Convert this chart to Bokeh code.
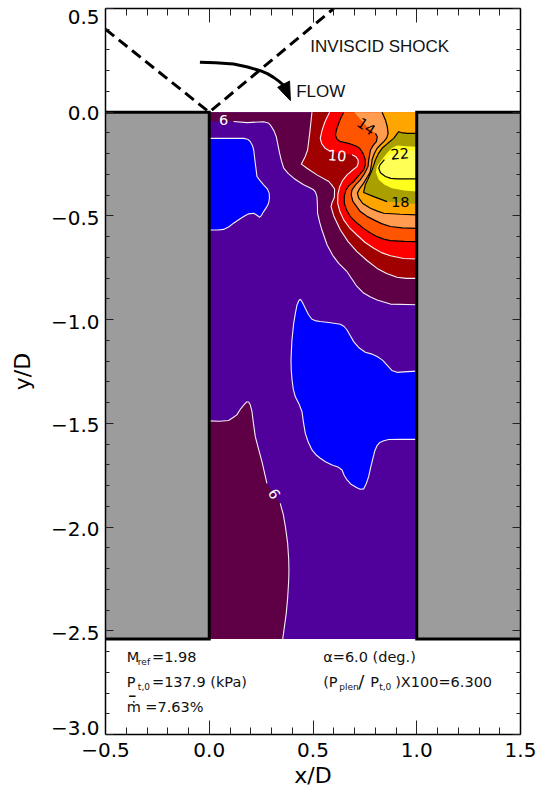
from bokeh.plotting import figure
from bokeh.models import LinearAxis, FixedTicker, Label, Range1d
from bokeh.core.properties import value
from bokeh.embed import file_html
from bokeh.resources import INLINE

x_major = [-0.5, 0.0, 0.5, 1.0, 1.5]
x_major_labels = ["\u22120.5", "0.0", "0.5", "1.0", "1.5"]
x_minor = [-0.4, -0.3, -0.2, -0.1, 0.1, 0.2, 0.3, 0.4, 0.6, 0.7, 0.8, 0.9, 1.1, 1.2, 1.3, 1.4]
y_major = [-3.0, -2.5, -2.0, -1.5, -1.0, -0.5, 0.0, 0.5]
y_minor = [-2.9, -2.8, -2.7, -2.6, -2.4, -2.3, -2.2, -2.1, -1.9, -1.8, -1.7, -1.6, -1.4, -1.3, -1.2, -1.1,
           -0.9, -0.8, -0.7, -0.6, -0.4, -0.3, -0.2, -0.1, 0.1, 0.2, 0.3, 0.4]
# where the reference prints its y labels: the two end labels are pulled inside the frame's span
y_label_at = [-2.97, -2.51, -2.01, -1.51, -1.01, -0.51, -0.005, 0.457]
y_major_labels = ["\u22123.0", "\u22122.5", "\u22122.0", "\u22121.5", "\u22121.0", "\u22120.5", "0.0", "0.5"]

cavity_bottom = -2.54

# contour lines
blue_up_x = [0, .166, .185, .198, .208, .214, .222, .230, .245, .262, .280, .289, .290, .286, .275, .262, .250, .243,
             .230, .214, .190, .166, .140, .117, .095, .069, .040, 0]
blue_up_y = [-.126, -.126, -.130, -.142, -.160, -.181, -.247, -.310, -.330, -.350, -.370, -.390, -.415, -.439, -.460,
             -.479, -.500, -.506, -.497, -.487, -.490, -.503, -.520, -.535, -.552, -.565, -.568, -.568]

blue_low_x = [.439, .448, .463, .478, .495, .515, .535, .585, .632, .650, .664, .680, .696, .720, .752, .780, .809,
              .835, .857, .880, .905, .935, 1.0, 1.0, .921, .865, .841, .822, .809, .798, .789, .778, .768, .757, .744,
              .728, .712, .685, .664, .650, .640, .620, .592, .560, .535, .513, .495, .477, .463, .454, .447, .432,
              .415, .405, .399, .395, .394, .398, .407, .415, .423, .432, .439]
blue_low_y = [-.901, -.915, -.945, -.975, -.998, -1.006, -1.009, -1.015, -1.022, -1.033, -1.050, -1.078, -1.106,
              -1.134, -1.157, -1.165, -1.178, -1.195, -1.219, -1.245, -1.254, -1.252, -1.248, -1.577, -1.577, -1.578,
              -1.584, -1.592, -1.607, -1.632, -1.668, -1.712, -1.757, -1.790, -1.816, -1.818, -1.810, -1.795, -1.773,
              -1.750, -1.725, -1.710, -1.701, -1.685, -1.668, -1.650, -1.628, -1.590, -1.548, -1.495, -1.444, -1.405,
              -1.372, -1.335, -1.291, -1.240, -1.194, -1.105, -1.017, -.970, -.929, -.908, -.901]

low6_x = [0, .05, .093, .115, .133, .150, .166, .180, .190, .198, .206, .213, .222, .238, .254, .278,
          .342, .357, .367, .378, .383, .384, .383, .378, .371, .354]
low6_y = [-1.488, -1.490, -1.486, -1.472, -1.459, -1.432, -1.412, -1.397, -1.397, -1.412, -1.444, -1.500, -1.564,
          -1.625, -1.685, -1.789, -1.886, -1.940, -1.998, -2.080, -2.159, -2.210, -2.255, -2.340, -2.416, -2.54]

up6_x = [0, .117, .182, .262, .285, .297, .312, .323, .339, .348, .359, .380, .407, .430, .455, .480, .503, .512, .519,
         .521, .522, .532, .543, .568, .595, .624, .664, .712, .744, .775, .809, .873, 1.0]
up6_y = [-.045, -.045, -.050, -.046, -.052, -.065, -.090, -.118, -.197, -.235, -.270, -.295, -.318, -.334, -.350, -.362,
         -.374, -.385, -.407, -.440, -.487, -.530, -.568, -.640, -.690, -.729, -.769, -.840, -.872, -.890, -.905, -.925, -.928]

c8_x = [.495, .484, .474, .462, .444, .471, .519, .576, .590, .604, .603, .592, .587, .600, .632, .670, .712, .760,
        .809, .855, .905, .95, 1.0]
c8_y = [0, -.102, -.182, -.215, -.250, -.270, -.302, -.334, -.350, -.370, -.410, -.435, -.455, -.500, -.568, -.625,
        -.672, -.715, -.753, -.778, -.796, -.801, -.801]

c10_x = [.580, .565, .555, .543, .535, .542, .559, .584, .688, .705, .717, .718, .712, .690, .664, .642, .629, .620,
         .619, .630, .648, .675, .712, .750, .793, .830, .873, .937, 1.0]
c10_y = [0, -.030, -.053, -.090, -.126, -.152, -.174, -.189, -.205, -.213, -.229, -.245, -.262, -.280, -.302, -.330,
         -.358, -.395, -.439, -.480, -.519, -.556, -.592, -.627, -.656, -.677, -.692, -.705, -.708]

c12_x = [.648, .634, .624, .613, .608, .616, .632, .655, .680, .705, .725, .742, .752, .752, .744, .720, .696, .672,
         .659, .651, .651, .662, .680, .710, .744, .775, .809, .840, .873, .94, 1.0]
c12_y = [0, -.028, -.053, -.085, -.110, -.130, -.142, -.147, -.153, -.162, -.174, -.200, -.229, -.255, -.278, -.306,
         -.334, -.355, -.374, -.405, -.439, -.472, -.503, -.533, -.560, -.581, -.600, -.612, -.619, -.623, -.624]

c14_x = [.699, .760, .801, .810, .806, .790, .777, .770, .765, .748, .728, .705, .688, .684, .692, .728, .760, .793,
         .830, .873, .93, 1.0]
c14_y = [0, -.07, -.102, -.118, -.140, -.160, -.182, -.220, -.262, -.296, -.326, -.350, -.374, -.398, -.430, -.479,
         -.502, -.519, -.537, -.551, -.558, -.560]

c16_x = [.833, .849, .858, .862, .855, .841, .825, .809, .795, .785, .781, .775, .760, .744, .725, .714, .720, .740,
         .777, .810, .841, .92, 1.0]
c16_y = [0, -.037, -.070, -.102, -.125, -.142, -.157, -.174, -.200, -.229, -.258, -.290, -.315, -.342, -.368, -.390,
         -.413, -.440, -.463, -.477, -.487, -.492, -.495]

c18_x = [1.0, .953, .925, .913, .902, .889, .860, .833, .815, .801, .785, .765, .752, .744, .793, .857, 1.0]
c18_y = [-.102, -.102, -.098, -.094, -.108, -.126, -.150, -.174, -.200, -.229, -.278, -.322, -.350, -.387, -.407, -.431, -.442]

c20_x = [1.0, .95, .905, .880, .857, .830, .808, .803, .817, .845, .881, .940, 1.0]
c20_y = [-.166, -.164, -.161, -.172, -.197, -.232, -.262, -.290, -.326, -.350, -.366, -.378, -.382]

c22_x = [1.0, .969, .873, .844, .822, .817, .825, .849, .875, .905, 1.0]
c22_y = [-.189, -.185, -.201, -.229, -.255, -.270, -.292, -.310, -.319, -.321, -.321]

shock_x = [-0.5, 0.0, 0.60]
shock_y = [0.40, 0.0, 0.50]

flow_x = [-.045, .03, .117, .185, .246, .280, .310, .335, .358]
flow_y = [.241, .238, .232, .218, .200, .186, .168, .150, .131]
flow_head_x = [.330, .387, .391]
flow_head_y = [.120, .150, .056]

label_text = ["6", "10", "14", "18", "22", "6"]
label_x = [.069, .616, .756, .921, .918, .313]
label_y = [-.037, -.210, -.069, -.431, -.201, -1.841]
label_angle = [0, -5, -35, 0, 5, -60]
label_color = ["white", "white", "black", "black", "black", "white"]

INDIGO, BLUE, PURPLE, DKRED, RED = "#50009B", "#0000FF", "#5F0046", "#A00000", "#FF0000"
ORED, LORANGE, ORANGE, OLIVE, YEL, PALE = "#FF5500", "#FF9C50", "#FFA500", "#A9A000", "#FFFF1E", "#FFFF55"
GRAY = "#9C9C9C"
FONT = "DejaVu Sans"

p = figure(frame_width=415, frame_height=726, x_range=Range1d(-0.5, 1.5), y_range=Range1d(-3.0, 0.5),
           output_backend="svg", toolbar_location=None, x_axis_location=None, y_axis_location=None,
           min_border_left=105, min_border_right=21, min_border_top=8, min_border_bottom=50,
           background_fill_color="white", border_fill_color="white", outline_line_color=None)
p.grid.visible = False


def tick_axis(ticks, minor, major_len, minor_len):
    a = LinearAxis(ticker=FixedTicker(ticks=ticks, minor_ticks=minor),
                   axis_line_color="black", axis_line_width=1.5,
                   major_tick_in=major_len, major_tick_out=0, minor_tick_in=minor_len, minor_tick_out=0,
                   major_tick_line_color="#222222", minor_tick_line_color="#222222",
                   major_tick_line_width=1, minor_tick_line_width=1,
                   major_label_text_color=None, major_label_text_font_size="1px", major_label_standoff=0)
    return a


def style_labels(a, ticks, labels, title):
    a.major_label_overrides = {float(t): s for t, s in zip(ticks, labels)}
    a.major_label_text_font = FONT
    a.major_label_text_font_size = "20px"
    a.major_label_text_color = "black"
    a.major_label_standoff = 8
    a.axis_label = title
    a.axis_label_text_font = FONT
    a.axis_label_text_font_size = "22px"
    a.axis_label_text_font_style = "normal"
    a.axis_label_text_color = "black"


ax_b = tick_axis(x_major, x_minor, 14, 7)
style_labels(ax_b, x_major, x_major_labels, "x/D")
ax_b.axis_label_standoff = 3
p.add_layout(ax_b, "below")

# left side: an inner axis with the frame line and ticks, an outer one with the printed labels
p.add_layout(tick_axis(y_major, y_minor, 8, 4), "left")
ax_l = LinearAxis(ticker=FixedTicker(ticks=y_label_at), axis_line_color=None, major_tick_line_color=None,
                  minor_tick_line_color=None, major_tick_in=0, major_tick_out=0, minor_tick_in=0, minor_tick_out=0)
style_labels(ax_l, y_label_at, y_major_labels, "y/D")
ax_l.major_label_standoff = 6
ax_l.axis_label_standoff = 13
p.add_layout(ax_l, "left")

p.add_layout(tick_axis(x_major, x_minor, 14, 7), "above")
p.add_layout(tick_axis(y_major, y_minor, 8, 4), "right")

# walls and cavity fill
p.quad(left=[-0.5, 1.0], right=[0.0, 1.5], top=[0, 0], bottom=[cavity_bottom] * 2, fill_color=GRAY, line_color=None)
p.quad(left=[0.0], right=[1.0], top=[0], bottom=[cavity_bottom], fill_color=INDIGO, line_color=None)

p.patch(low6_x + [0], low6_y + [cavity_bottom], fill_color=PURPLE, line_color=None)
p.patch(up6_x + [1, 0], up6_y + [0, 0], fill_color=PURPLE, line_color=None)
for cx, cy, col in [(c8_x, c8_y, DKRED), (c10_x, c10_y, RED), (c12_x, c12_y, ORED),
                    (c14_x, c14_y, LORANGE), (c16_x, c16_y, ORANGE)]:
    p.patch(cx + [1], cy + [0], fill_color=col, line_color=None)
for cx, cy, col in [(c18_x, c18_y, OLIVE), (c20_x, c20_y, YEL), (c22_x, c22_y, PALE)]:
    p.patch(cx, cy, fill_color=col, line_color=None)
p.patch(blue_up_x, blue_up_y, fill_color=BLUE, line_color=None)
p.patch(blue_low_x[:-1], blue_low_y[:-1], fill_color=BLUE, line_color=None)

white_lines = [(blue_up_x, blue_up_y), (blue_low_x[:23], blue_low_y[:23]),
               (blue_low_x[23:], blue_low_y[23:]), (low6_x[:16], low6_y[:16]), (low6_x[16:], low6_y[16:]),
               (up6_x[1:], up6_y[1:]), (c8_x, c8_y), (c10_x[:8], c10_y[:8]), (c10_x[8:], c10_y[8:])]
for lx, ly in white_lines:
    p.line(lx, ly, line_color="#F4EEF6", line_width=1.1, line_join="round")
black_lines = [(c12_x, c12_y), (c14_x[2:], c14_y[2:]), (c16_x, c16_y), (c18_x[:16], c18_y[:16]), (c22_x[3:], c22_y[3:])]
for lx, ly in black_lines:
    p.line(lx, ly, line_color="black", line_width=1.2, line_join="round")

for lx, ly in [([-0.5, 0, 0, -0.5], [0, 0, cavity_bottom, cavity_bottom]),
               ([1.5, 1, 1, 1.5], [0, 0, cavity_bottom, cavity_bottom])]:
    p.line(lx, ly, line_color="black", line_width=3, line_join="miter")

p.line(shock_x, shock_y, line_color="black", line_width=3, line_dash="11 6")
p.line(flow_x, flow_y, line_color="black", line_width=3)
p.patch(flow_head_x, flow_head_y, fill_color="black", line_color="black")

p.text(label_x, label_y, text=label_text, angle=label_angle, angle_units="deg", text_color=label_color,
       text_align="center", text_baseline="middle", text_font=value(FONT), text_font_size="14.5px")
p.text([0.487, 0.419], [0.318, 0.098], text=["INVISCID SHOCK", "FLOW"], text_baseline="middle",
       text_font=value("Liberation Sans"), text_font_size="17px", text_color="#111111")

# parameter block
SUB = "9px"
BODY = "14.5px"
block = [("M", -0.397, -2.627, BODY), ("ref", -0.344, -2.651, SUB), ("=1.98", -0.276, -2.627, BODY),
         ("P", -0.397, -2.746, BODY), ("t,0", -0.344, -2.770, SUB), ("=137.9 (kPa)", -0.276, -2.746, BODY),
         ("\u1e41", -0.397, -2.867, BODY), ("\u00af", -0.397, -2.849, "22px"), ("=7.63%", -0.308, -2.867, BODY),
         ("\u03b1=6.0 (deg.)", 0.549, -2.627, BODY),
         ("(P", 0.549, -2.746, BODY), ("plen", 0.627, -2.770, SUB), ("/", 0.718, -2.746, "18px"), ("P", 0.776, -2.746, BODY),
         ("t,0", 0.819, -2.770, SUB), (")X100=6.300", 0.896, -2.746, BODY)]
for txt, bx, by, fs in block:
    p.add_layout(Label(x=bx, y=by, text=txt, text_baseline="middle", text_font=FONT, text_font_size=fs,
                       text_color="#111111"))

open("out.html", "w").write(file_html(p, INLINE))
